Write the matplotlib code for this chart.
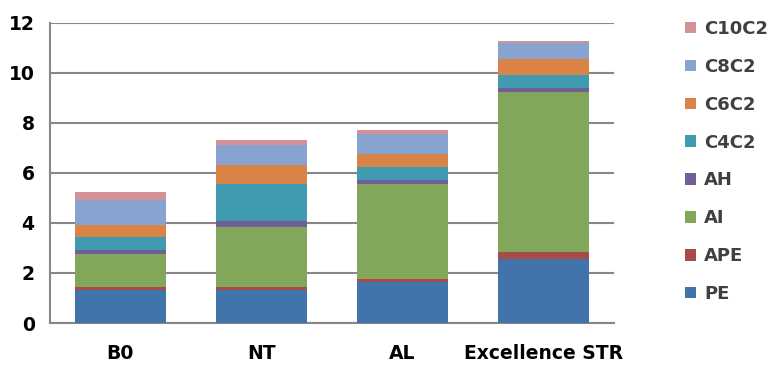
import matplotlib
matplotlib.use("Agg")
import matplotlib.pyplot as plt
import numpy as np
from matplotlib.patches import Patch

CATEGORIES = ["B0", "NT", "AL", "Excellence STR"]
SERIES = ["PE", "APE", "AI", "AH", "C4C2", "C6C2", "C8C2", "C10C2"]

PE = [1.31, 1.32, 1.63, 2.57]
APE = [0.13, 0.13, 0.12, 0.25]
AI = [1.30, 2.38, 3.80, 6.40]
AH = [0.17, 0.24, 0.18, 0.18]
C4C2 = [0.51, 1.50, 0.51, 0.51]
C6C2 = [0.50, 0.73, 0.50, 0.63]
C8C2 = [1.01, 0.80, 0.80, 0.66]
C10C2 = [0.29, 0.20, 0.18, 0.08]

COLORS = {
    "PE": "#4174aa",
    "APE": "#a84a4a",
    "AI": "#82a75a",
    "AH": "#715e98",
    "C4C2": "#409bb1",
    "C6C2": "#da8346",
    "C8C2": "#88a3d0",
    "C10C2": "#d39296",
}

GRID_COLOR = "#878787"
FONT = "DejaVu Sans"


def main() -> None:
    plt.rcParams["font.family"] = [FONT]
    fig = plt.figure(figsize=(7.68, 3.65), dpi=100)
    ax = fig.add_axes((0.065, 0.115, 0.7345, 0.823))

    values = [PE, APE, AI, AH, C4C2, C6C2, C8C2, C10C2]
    x = np.arange(len(CATEGORIES))
    bottom = np.zeros(len(CATEGORIES))
    for name, vals in zip(SERIES, values):
        ax.bar(x, vals, bottom=bottom, width=0.645, color=COLORS[name], zorder=3,
               edgecolor="none")
        bottom += np.array(vals)

    ax.set_xlim(-0.5, 3.5)
    ax.set_ylim(0, 12)
    ax.set_yticks(np.arange(0, 13, 2))
    ax.set_xticks(x)
    ax.set_xticklabels(CATEGORIES)
    ax.yaxis.grid(True, color=GRID_COLOR, linewidth=1.5, zorder=0)
    ax.set_axisbelow(True)
    for side in ("top", "right"):
        ax.spines[side].set_visible(False)
    for side in ("left", "bottom"):
        ax.spines[side].set_color(GRID_COLOR)
        ax.spines[side].set_linewidth(1.5)
    ax.tick_params(axis="y", length=0, pad=11, labelsize=13.5)
    ax.tick_params(axis="x", length=0, pad=15, labelsize=13.5)
    for lab in ax.get_xticklabels() + ax.get_yticklabels():
        lab.set_fontweight("bold")

    handles = [Patch(facecolor=COLORS[n], edgecolor="none", label=n) for n in SERIES][::-1]
    fig.legend(handles=handles, loc="upper left", bbox_to_anchor=(0.883, 0.965),
               frameon=False, prop={"weight": "bold", "size": 13},
               labelcolor="#404040", handlelength=0.6, handleheight=0.6,
               handletextpad=0.45, labelspacing=1.1, borderaxespad=0)

    fig.savefig("out.png", dpi=100)
    plt.close(fig)


if __name__ == "__main__":
    main()
